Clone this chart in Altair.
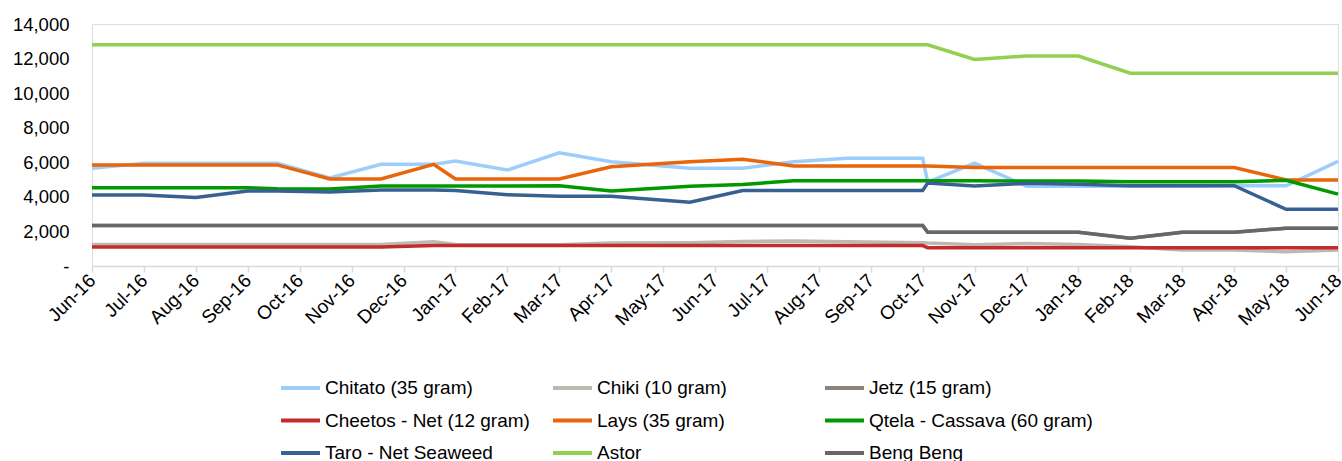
import altair as alt
import pandas as pd
import calendar

# Observation dates for the retail price survey
DATES = [
    "2016-06-01", "2016-07-01", "2016-08-01", "2016-09-01", "2016-09-18",
    "2016-10-19", "2016-11-18", "2016-12-19", "2017-01-01", "2017-02-01",
    "2017-03-01", "2017-04-01", "2017-05-17", "2017-06-17", "2017-07-17",
    "2017-08-18", "2017-10-01", "2017-10-04", "2017-11-01", "2017-12-01",
    "2018-01-01", "2018-02-01", "2018-03-01", "2018-04-01", "2018-05-01",
    "2018-06-01",
]

# Prices (Rp) per product at each observation date
CHITATO = [5650, 5950, 5950, 5950, 5950, 5100, 5880, 5880, 6070, 5550,
           6550, 6030, 5650, 5650, 6030, 6230, 6230, 4850, 5950, 4620,
           4620, 4620, 4630, 4640, 4640, 6050]
CHIKI = [1240, 1240, 1240, 1240, 1240, 1240, 1240, 1400, 1250, 1230,
         1230, 1330, 1350, 1420, 1450, 1400, 1350, 1330, 1230, 1300,
         1250, 1120, 930, 930, 820, 930]
JETZ = [2350, 2350, 2350, 2350, 2350, 2350, 2350, 2350, 2350, 2350,
        2350, 2350, 2350, 2350, 2350, 2350, 2350, 1950, 1950, 1950,
        1950, 1600, 1950, 1950, 2190, 2190]
CHEETOS = [1100, 1100, 1100, 1100, 1100, 1100, 1100, 1180, 1180, 1180,
           1180, 1180, 1180, 1180, 1180, 1180, 1180, 1060, 1060, 1060,
           1060, 1060, 1060, 1060, 1060, 1060]
LAYS = [5850, 5850, 5850, 5850, 5850, 5030, 5030, 5880, 5030, 5030,
        5030, 5745, 6030, 6180, 5790, 5790, 5790, 5790, 5700, 5700,
        5700, 5700, 5700, 5700, 4980, 4980]
QTELA = [4530, 4530, 4530, 4530, 4470, 4450, 4630, 4630, 4630, 4630,
         4640, 4340, 4620, 4720, 4930, 4935, 4935, 4935, 4930, 4920,
         4920, 4880, 4880, 4880, 4960, 4160]
TARO = [4106, 4106, 3970, 4340, 4340, 4280, 4395, 4395, 4370, 4120,
        4030, 4030, 3690, 4370, 4370, 4370, 4370, 4800, 4627, 4780,
        4725, 4645, 4645, 4645, 3280, 3280]
ASTOR = [12800] * 18 + [11950, 12150, 12150, 11150, 11150, 11150, 11150, 11150]
BENG_BENG = [2350, 2350, 2350, 2350, 2350, 2350, 2350, 2350, 2350, 2350,
             2350, 2350, 2350, 2350, 2350, 2350, 2350, 1950, 1950, 1950,
             1950, 1600, 1950, 1950, 2190, 2190]

# Series in drawing order (later ones are painted on top)
SERIES = [
    ("Chitato (35 gram)", CHITATO, "#9dcdfc"),
    ("Chiki (10 gram)", CHIKI, "#bdb8b1"),
    ("Jetz (15 gram)", JETZ, "#8e847e"),
    ("Cheetos - Net (12 gram)", CHEETOS, "#c22d2b"),
    ("Lays (35 gram)", LAYS, "#e8650a"),
    ("Qtela - Cassava (60 gram)", QTELA, "#009a00"),
    ("Taro - Net Seaweed", TARO, "#376193"),
    ("Astor", ASTOR, "#92d050"),
    ("Beng Beng", BENG_BENG, "#676767"),
]

MONTH_LABELS = [
    "Jun-16", "Jul-16", "Aug-16", "Sep-16", "Oct-16", "Nov-16", "Dec-16",
    "Jan-17", "Feb-17", "Mar-17", "Apr-17", "May-17", "Jun-17", "Jul-17",
    "Aug-17", "Sep-17", "Oct-17", "Nov-17", "Dec-17", "Jan-18", "Feb-18",
    "Mar-18", "Apr-18", "May-18", "Jun-18",
]
Y_TICKS = [0, 2000, 4000, 6000, 8000, 10000, 12000, 14000]

LEGEND_COLUMNS = 3


def month_position(date_str):
    """Months elapsed since June 2016, with the day as a fraction of its month."""
    y, m, d = (int(p) for p in date_str.split("-"))
    days = calendar.monthrange(y, m)[1]
    return (y - 2016) * 12 + (m - 6) + (d - 1) / days


rows = []
for name, values, _ in SERIES:
    for date, v in zip(DATES, values):
        rows.append({"product": name, "m": month_position(date), "price": v})
df = pd.DataFrame(rows)

# The legend grid fills column by column; reorder so it reads row by row.
n_rows = -(-len(SERIES) // LEGEND_COLUMNS)
legend_order = [
    SERIES[r * LEGEND_COLUMNS + c]
    for c in range(LEGEND_COLUMNS)
    for r in range(n_rows)
    if r * LEGEND_COLUMNS + c < len(SERIES)
]
names = [s[0] for s in legend_order]
colors = [s[2] for s in legend_order]
label_array = "[" + ",".join(f"'{lab}'" for lab in MONTH_LABELS) + "]"

FONT = "Liberation Sans"

chart = (
    alt.Chart(df)
    .mark_line(strokeWidth=3.5)
    .encode(
        x=alt.X(
            "m:Q",
            scale=alt.Scale(domain=[0, len(MONTH_LABELS) - 1], nice=False, zero=False),
            axis=alt.Axis(
                title="",
                values=list(range(len(MONTH_LABELS))),
                labelExpr=f"{label_array}[round(datum.value)]",
                labelAngle=-45,
                labelAlign="right",
                labelBaseline="middle",
                labelPadding=5,
                labelFont=FONT,
                labelFontSize=19,
                labelColor="#000000",
                labelOverlap=False,
                labelFlush=False,
                grid=False,
                domainColor="#d9d9d9",
                domainWidth=1.5,
                tickColor="#d9d9d9",
                tickWidth=1.5,
                tickSize=6,
            ),
        ),
        y=alt.Y(
            "price:Q",
            scale=alt.Scale(domain=[0, 14000], nice=False),
            axis=alt.Axis(
                title="",
                values=Y_TICKS,
                labelExpr="datum.value == 0 ? '-' : format(datum.value, ',')",
                labelFont=FONT,
                labelFontSize=18.5,
                labelColor="#000000",
                labelPadding=23,
                labelBaseline="middle",
                grid=False,
                domain=False,
                ticks=False,
            ),
        ),
        color=alt.Color(
            "product:N",
            sort=names,
            scale=alt.Scale(domain=names, range=colors),
            legend=alt.Legend(
                title="",
                orient="none",
                legendX=187,
                legendY=352,
                columns=LEGEND_COLUMNS,
                gridAlign="all",
                symbolType="stroke",
                symbolSize=1521,
                symbolStrokeWidth=4,
                clipHeight=24,
                rowPadding=8.5,
                columnPadding=2,
                labelOffset=3,
                labelFont=FONT,
                labelFontSize=19,
                labelColor="#000000",
                labelLimit=400,
                padding=0,
            ),
        ),
        order=alt.Order("m:Q"),
    )
    .properties(
        width=1246,
        height=242,
        autosize=alt.AutoSizeParams(type="none"),
        padding={"left": 92, "top": 24, "right": 4, "bottom": 195},
    )
    .configure_view(stroke=None)
    .configure(background="#ffffff")
)

chart.save("out.html", embed_options={"renderer": "svg", "actions": False})
